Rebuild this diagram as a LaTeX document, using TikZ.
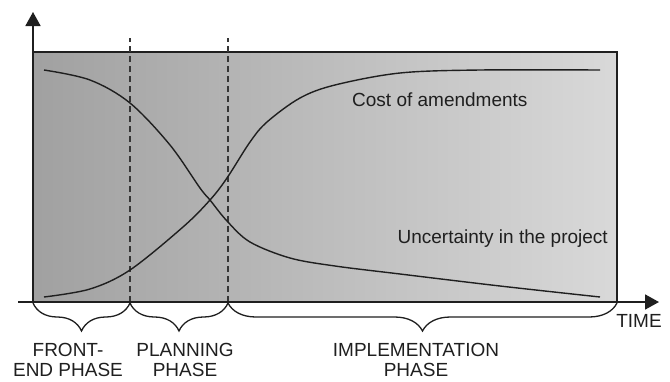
\documentclass[tikz,border=0pt]{standalone}
\usepackage{fontspec}
\setmainfont{Liberation Sans}
\usetikzlibrary{arrows.meta,decorations.pathreplacing}
\definecolor{shadeL}{gray}{0.63}
\definecolor{shadeR}{gray}{0.85}
\definecolor{inkc}{gray}{0.12}
\tikzset{
  axisline/.style={line width=1.7pt,draw=inkc,-{Triangle[length=14pt,width=15pt]}},
  phaseline/.style={line width=1.1pt,draw=inkc!90,dash pattern=on 6pt off 4pt},
  curveline/.style={line width=1.4pt,draw=inkc},
  bracestyle/.style={line width=1.3pt,draw=inkc,decorate,decoration={brace,mirror,amplitude=28pt,aspect=0.5}},
  lbl/.style={font=\fontsize{19pt}{20.5pt}\selectfont,text=inkc,inner sep=0pt,align=center}
}
\begin{document}
\begin{tikzpicture}[x=1pt,y=-1pt]
\useasboundingbox (0,0) rectangle (670,381);
% coordinates
\coordinate (O) at (33,302);
\coordinate (Ytip) at (33,12);
\coordinate (Xstart) at (18,302);
\coordinate (Xtip) at (659,302);
\coordinate (P1) at (130,302);
\coordinate (P2) at (228,302);
\coordinate (E) at (617,302);
\coordinate (P1top) at (130,38);
\coordinate (P2top) at (228,38);
% shaded panel
\shade[left color=shadeL,right color=shadeR] (33,52) rectangle (617,302);
\draw[line width=1.1pt,draw=inkc] (33,302) -- (33,52) -- (617,52) -- (617,302);
% phase separators
\draw[phaseline] (P1) -- (P1top);
\draw[phaseline] (P2) -- (P2top);
% curves
\draw[curveline] plot[smooth,tension=0.55] coordinates {(44,297) (90,289) (130,270) (183,227) (210,200) (227,178) (250,142) (267,122) (300,98) (335,85) (400,73) (480,70) (600,70)};
\draw[curveline] plot[smooth,tension=0.55] coordinates {(44,70) (90,80) (130,103) (170,145) (200,188) (210,200) (227,221) (250,242) (290,258) (335,266) (400,274) (500,286) (600,297)};
% axes
\draw[axisline] (O) -- (Ytip);
\draw[axisline] (Xstart) -- (Xtip);
% braces
\draw[bracestyle] (33,303) -- (P1 |- 0,303);
\draw[bracestyle] (P1 |- 0,303) -- (P2 |- 0,303);
\draw[bracestyle] (P2 |- 0,303) -- (E |- 0,303);
% labels
\node[lbl,anchor=west] (cost) at (352,100) {Cost of amendments};
\node[lbl,anchor=east] (unc) at (608,239) {Uncertainty in the project};
\node[lbl] (time) at (639,321) {TIME};
\node[lbl] (front) at (68,360) {FRONT-\\END PHASE};
\node[lbl] (plan) at (185,360) {PLANNING\\PHASE};
\node[lbl] (impl) at (416,360) {IMPLEMENTATION\\PHASE};
\end{tikzpicture}
\end{document}
